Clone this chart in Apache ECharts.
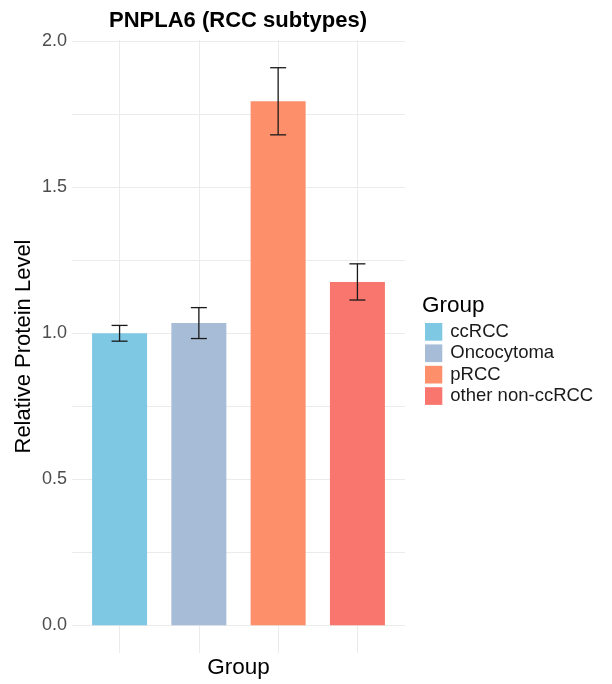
<!DOCTYPE html>
<html>
<head>
<meta charset="utf-8">
<script src="https://cdn.jsdelivr.net/npm/echarts@6/dist/echarts.min.js"></script>
<style>
  html, body { margin: 0; padding: 0; background: #ffffff; }
  #chart { width: 612px; height: 684px; }
</style>
</head>
<body>
<div id="chart"></div>
<script>
// Subtype groups, mean relative protein level and error half-widths
const groups = ['ccRCC', 'Oncocytoma', 'pRCC', 'other non-ccRCC'];
const means = [1.000, 1.035, 1.795, 1.176];
const errors = [0.027, 0.053, 0.115, 0.062];
const colors = ['#7ec8e3', '#a7bcd6', '#fd8f6b', '#f8766d'];

// Gridline and tick label positions on the value axis
const yGridValues = [0, 0.25, 0.5, 0.75, 1, 1.25, 1.5, 1.75, 2];
const yLabelValues = [0, 0.5, 1, 1.5, 2];
// Group positions along the x axis (one per bar)
const xPositions = [1, 2, 3, 4];

const FONT = 'Liberation Sans, Arial, Helvetica, sans-serif';
const chart = echarts.init(document.getElementById('chart'), null, { renderer: 'canvas' });

const barSeries = groups.map((g, i) => ({
  name: g,
  type: 'bar',
  data: [[xPositions[i], means[i]]],
  barWidth: 55,
  barGap: '-100%',
  itemStyle: { color: colors[i] },
  emphasis: { disabled: true },
  z: 2
}));

const errorSeries = {
  name: 'error',
  type: 'custom',
  data: groups.map((g, i) => [xPositions[i], means[i] - errors[i], means[i] + errors[i]]),
  encode: { x: 0, y: [1, 2] },
  silent: true,
  z: 5,
  renderItem(params, api) {
    const x = api.value(0);
    const lo = api.coord([x, api.value(1)]);
    const hi = api.coord([x, api.value(2)]);
    const half = 8;
    const style = { stroke: '#1a1a1a', lineWidth: 1.3 };
    return {
      type: 'group',
      children: [
        { type: 'line', shape: { x1: lo[0], y1: lo[1], x2: hi[0], y2: hi[1] }, style },
        { type: 'line', shape: { x1: hi[0] - half, y1: hi[1], x2: hi[0] + half, y2: hi[1] }, style },
        { type: 'line', shape: { x1: lo[0] - half, y1: lo[1], x2: lo[0] + half, y2: lo[1] }, style }
      ]
    };
  }
};

chart.setOption({
  animation: false,
  backgroundColor: '#ffffff',
  textStyle: { fontFamily: FONT },
  title: [
    {
      text: 'PNPLA6 (RCC subtypes)',
      left: 238,
      top: 10,
      padding: 0,
      textAlign: 'center',
      textStyle: { fontFamily: FONT, fontSize: 22, fontWeight: 'bold', color: '#000000' }
    },
    {
      text: 'Group',
      left: 422,
      top: 294,
      padding: 0,
      textStyle: { fontFamily: FONT, fontSize: 22.5, fontWeight: 'normal', color: '#000000' }
    }
  ],
  legend: {
    data: groups,
    orient: 'vertical',
    left: 425,
    top: 322,
    padding: 0,
    icon: 'rect',
    itemWidth: 17.3,
    itemHeight: 17.7,
    itemGap: 1.7,
    selectedMode: false,
    textStyle: { fontFamily: FONT, fontSize: 18.5, lineHeight: 17.7, color: '#1a1a1a', padding: [2, 0, 0, 3] }
  },
  grid: { left: 72, right: 207, top: 40, bottom: 31, containLabel: false },
  xAxis: {
    type: 'value',
    min: 0.4,
    max: 4.6,
    name: 'Group',
    nameLocation: 'middle',
    nameGap: 3,
    nameMoveOverlap: false,
    nameTextStyle: { fontFamily: FONT, fontSize: 22.5, color: '#000000', verticalAlign: 'top' },
    axisLine: { show: false },
    axisTick: { show: false, customValues: xPositions },
    axisLabel: { show: false },
    splitLine: { show: true, lineStyle: { color: '#ebebeb', width: 1 } }
  },
  yAxis: {
    type: 'value',
    min: -0.0955,
    max: 2.005,
    name: 'Relative Protein Level',
    nameLocation: 'middle',
    nameRotate: 90,
    nameGap: 37,
    nameMoveOverlap: false,
    nameTextStyle: { fontFamily: FONT, fontSize: 22, color: '#000000' },
    axisLine: { show: false },
    axisTick: { show: false, customValues: yGridValues },
    axisLabel: {
      customValues: yLabelValues,
      formatter: v => Number(v).toFixed(1),
      color: '#4d4d4d',
      fontSize: 18,
      fontFamily: FONT,
      margin: 5
    },
    splitLine: { show: true, lineStyle: { color: '#ebebeb', width: 1 } }
  },
  series: [...barSeries, errorSeries]
});
</script>
</body>
</html>
